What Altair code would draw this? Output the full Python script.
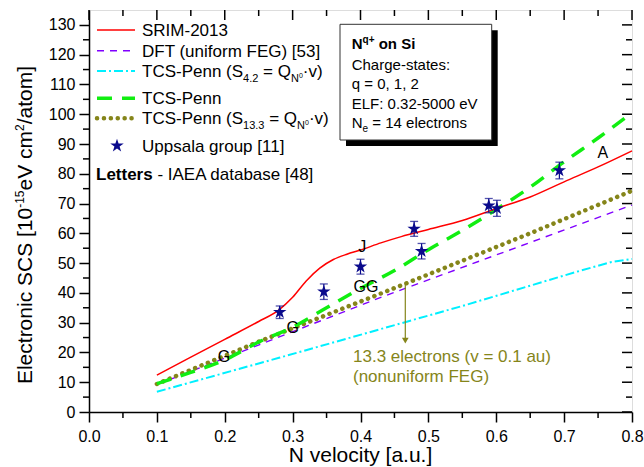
import altair as alt
import pandas as pd

# ---------------- data ----------------
srim_v = [0.10, 0.15, 0.20, 0.25, 0.28, 0.30, 0.32, 0.34, 0.36, 0.38, 0.40, 0.43, 0.46, 0.50, 0.55, 0.60, 0.65, 0.70, 0.75, 0.80]
srim_s = [12.4, 18.4, 24.4, 30.4, 34.3, 38.5, 44.0, 48.3, 51.2, 53.0, 54.4, 56.8, 58.9, 61.3, 64.3, 68.3, 72.2, 77.3, 82.3, 87.7]

dft_v = [0.10, 0.43, 0.80]
dft_s = [9.2, 38.5, 69.5]

tcs42_v = [0.10, 0.28, 0.55, 0.72, 0.77, 0.80]
tcs42_s = [6.8, 18.2, 35.6, 47.2, 50.4, 51.4]

tcs_v = [0.10, 0.15, 0.20, 0.25, 0.30, 0.35, 0.40, 0.45, 0.50, 0.55, 0.60, 0.65, 0.70, 0.75, 0.80]
tcs_s = [9.5, 13.3, 17.5, 23.5, 28.5, 35.0, 41.5, 47.5, 54.5, 61.0, 68.0, 75.5, 84.0, 92.0, 100.5]

tcs133_v = [0.10, 0.25, 0.45, 0.65, 0.80]
tcs133_s = [9.4, 23.6, 41.6, 60.0, 74.3]

upp_v = [0.281, 0.346, 0.400, 0.479, 0.490, 0.589, 0.601, 0.693]
upp_s = [33.5, 40.4, 48.8, 61.5, 54.0, 69.3, 68.4, 81.1]
upp_e = [2.1, 2.6, 2.5, 2.5, 2.6, 2.4, 2.7, 2.8]

letter_txt = ["G", "G", "GG", "J", "A"]
letter_v = [0.199, 0.300, 0.408, 0.4025, 0.757]
letter_s = [18.4, 28.3, 42.1, 55.5, 86.9]

arrow_v = [0.466]
arrow_top = [43.2]
arrow_bot = [24.0]

x_major = [0.0, 0.1, 0.2, 0.3, 0.4, 0.5, 0.6, 0.7, 0.8]
x_minor = [0.05, 0.15, 0.25, 0.35, 0.45, 0.55, 0.65, 0.75]
y_major = list(range(0, 131, 10))
y_minor = list(range(5, 126, 10))

# ---------------- styling ----------------
FONT = "Liberation Sans"
W, H = 543, 402
RED = "#ff0000"
PURPLE = "#8000ff"
CYAN = "#00f0ff"
GREEN = "#11ee11"
OLIVE = "#85851a"
NAVY = "#0a0a8c"
STAR = ("M0,-1L0.2245,-0.309L0.951,-0.309L0.363,0.118L0.588,0.809L0,0.382"
        "L-0.588,0.809L-0.363,0.118L-0.951,-0.309L-0.2245,-0.309Z")

xs = alt.Scale(domain=[0, 0.8], nice=False, zero=False)
ys = alt.Scale(domain=[0, 135], nice=False, zero=False)
AXSTYLE = dict(labelFont=FONT, labelFontSize=16, labelColor="black", tickColor="black",
               domainColor="black", tickWidth=1.5, domainWidth=1.5, grid=False,
               labelOverlap=False, labelFlush=False, tickSize=10, title=None)
XA = alt.Axis(values=x_major, format=".1f", labelPadding=6, **AXSTYLE)
YA = alt.Axis(values=y_major, format="d", labelPadding=4, **AXSTYLE)

AW = {' ': 278, '(': 333, ')': 333, '[': 278, ']': 278, '-': 333, '.': 278, ',': 278, ':': 278,
      '=': 584, '+': 584, '·': 278, '/': 278,
      'A': 667, 'B': 667, 'C': 722, 'D': 722, 'E': 667, 'F': 611, 'G': 778, 'H': 722, 'I': 278,
      'J': 500, 'K': 667, 'L': 556, 'M': 833, 'N': 722, 'O': 778, 'P': 667, 'Q': 778, 'R': 722,
      'S': 667, 'T': 611, 'U': 722, 'V': 667, 'W': 944, 'X': 667, 'Y': 667, 'Z': 611,
      'a': 556, 'b': 556, 'c': 500, 'd': 556, 'e': 556, 'f': 278, 'g': 556, 'h': 556, 'i': 222,
      'j': 222, 'k': 500, 'l': 222, 'm': 833, 'n': 556, 'o': 556, 'p': 556, 'q': 556, 'r': 333,
      's': 500, 't': 278, 'u': 556, 'v': 500, 'w': 722, 'x': 500, 'y': 500, 'z': 500}
for d in "0123456789":
    AW[d] = 556
AWB = dict(AW)
AWB.update({'L': 611, 'b': 611, 'd': 611, 'e': 556, 'n': 611, 'o': 611, 'q': 611, 'r': 389,
            's': 556, 't': 333, 'i': 278, 'l': 278, 'c': 556, 'a': 556, 'A': 722, 'B': 722})


def tw(s, size, bold=False):
    tab = AWB if bold else AW
    return sum(tab.get(c, 556) for c in s) * size / 1000.0


dummy = pd.DataFrame({"d": [0]})
layers = []


def txt(text, x, y, size, bold=False, color="black", angle=0):
    kw = dict(text=text, font=FONT, fontSize=size, color=color, align="left", baseline="alphabetic")
    if bold:
        kw["fontWeight"] = "bold"
    if angle:
        kw["angle"] = angle
    layers.append(alt.Chart(dummy).mark_text(**kw).encode(x=alt.value(x), y=alt.value(y)))


def rich(segs, x0, y0, rot=False, color="black"):
    off = 0.0
    for text, size, shift, bold in segs:
        lead = len(text) - len(text.lstrip(" "))
        off += tw(" " * lead, size, bold)
        body = text.lstrip(" ")
        if rot:
            txt(body, x0 - shift, y0 - off, size, bold, color, 270)
        else:
            txt(body, x0 + off, y0 - shift, size, bold, color)
        off += tw(body, size, bold)


def X(f):
    return alt.X(f, scale=xs, axis=XA)


def Y(f):
    return alt.Y(f, scale=ys, axis=YA)


def series(v, s, color, width, dash=None, cap="butt", interp="linear"):
    df = pd.DataFrame({"v": v, "s": s})
    kw = dict(color=color, strokeWidth=width, strokeCap=cap, interpolate=interp)
    if dash:
        kw["strokeDash"] = dash
    return alt.Chart(df).mark_line(**kw).encode(x=X("v:Q"), y=Y("s:Q"))


# ---------------- curves ----------------
layers.append(series(tcs42_v, tcs42_s, CYAN, 2, [9, 3, 2, 3]))
layers.append(series(dft_v, dft_s, PURPLE, 1.4, [7, 6]))
layers.append(series(tcs133_v, tcs133_s, OLIVE, 4.5, [0.1, 6.8], cap="round"))
layers.append(series(tcs_v, tcs_s, GREEN, 3.5, [15, 10], interp="monotone"))
layers.append(series(srim_v, srim_s, RED, 1.5, interp="monotone"))

# ---------------- Uppsala points ----------------
up = pd.DataFrame({"v": upp_v, "s": upp_s, "e": upp_e})
up["lo"] = up["s"] - up["e"]
up["hi"] = up["s"] + up["e"]
layers.append(alt.Chart(up).mark_rule(color=NAVY, strokeWidth=1.2).encode(
    x=X("v:Q"), y=Y("lo:Q"), y2="hi:Q"))
for col in ["lo", "hi"]:
    layers.append(alt.Chart(up).mark_tick(color=NAVY, orient="horizontal", size=8, thickness=1.3).encode(
        x=X("v:Q"), y=Y(f"{col}:Q")))
layers.append(alt.Chart(up).mark_point(shape=STAR, filled=True, size=200, color=NAVY, opacity=1).encode(
    x=X("v:Q"), y=Y("s:Q")))

# ---------------- letters ----------------
lt = pd.DataFrame({"t": letter_txt, "v": letter_v, "s": letter_s})
layers.append(alt.Chart(lt).mark_text(font=FONT, fontSize=16, color="black", baseline="middle").encode(
    x=X("v:Q"), y=Y("s:Q"), text="t:N"))

# ---------------- arrow annotation ----------------
ar = pd.DataFrame({"v": arrow_v, "top": arrow_top, "bot": arrow_bot})
layers.append(alt.Chart(ar).mark_rule(color=OLIVE, strokeWidth=1.2).encode(
    x=X("v:Q"), y=Y("top:Q"), y2="bot:Q"))
layers.append(alt.Chart(ar).mark_point(shape="triangle-down", filled=True, size=45, color=OLIVE, opacity=1).encode(
    x=X("v:Q"), y=Y("bot:Q")))
txt("13.3 electrons (v = 0.1 au)", 264, 352, 17, color=OLIVE)
txt("(nonuniform FEG)", 264, 372, 17, color=OLIVE)

# ---------------- inward / minor ticks ----------------
def tickrules(vals, axis, a, b):
    df = pd.DataFrame({"t": vals})
    m = alt.Chart(df).mark_rule(color="black", strokeWidth=1.5)
    if axis == "x":
        return m.encode(x=X("t:Q"), y=alt.value(a), y2=alt.value(b))
    return m.encode(y=Y("t:Q"), x=alt.value(a), x2=alt.value(b))

layers.append(tickrules(x_minor, "x", H, H + 6))
layers.append(tickrules(y_minor, "y", -6, 0))
layers.append(tickrules(x_major, "x", 0, 10))
layers.append(tickrules(x_minor, "x", 0, 6))
layers.append(tickrules(y_major, "y", W - 10, W))
layers.append(tickrules(y_minor, "y", W - 6, W))

# ---------------- legend ----------------
LX0, LX1, LT = 8, 46, 53
rows = [20, 40.7, 61, 88.3, 108.3, 135.7]

def legline(y, color, width, dash=None, cap="butt"):
    kw = dict(color=color, strokeWidth=width, strokeCap=cap)
    if dash:
        kw["strokeDash"] = dash
    layers.append(alt.Chart(dummy).mark_rule(**kw).encode(
        x=alt.value(LX0), x2=alt.value(LX1), y=alt.value(y)))

legline(rows[0], RED, 1.5)
legline(rows[1], PURPLE, 1.4, [7, 6])
legline(rows[2], CYAN, 2, [9, 3, 2, 3])
legline(rows[3], GREEN, 3.5, [15, 10])
legline(rows[4], OLIVE, 4.5, [0.1, 6.8], cap="round")
layers.append(alt.Chart(dummy).mark_point(shape=STAR, filled=True, size=200, color=NAVY, opacity=1).encode(
    x=alt.value(28), y=alt.value(rows[5])))

F = 17
S = 11
b = [r + 6 for r in rows]
txt("SRIM-2013", LT, b[0], F)
txt("DFT (uniform FEG) [53]", LT, b[1], F)
rich([("TCS-Penn (S", F, 0, False), ("4.2", S, -5, False), (" = Q", F, 0, False),
      ("N", S, -5, False), ("0", 7, -1, False), ("·v)", F, 0, False)], LT, b[2])
txt("TCS-Penn", LT, b[3], F)
rich([("TCS-Penn (S", F, 0, False), ("13.3", S, -5, False), (" = Q", F, 0, False),
      ("N", S, -5, False), ("0", 7, -1, False), ("·v)", F, 0, False)], LT, b[4])
txt("Uppsala group [11]", LT, b[5], F)
rich([("Letters", F, 0, True), (" - IAEA database [48]", F, 0, False)], 7, 169.5)

# ---------------- info box ----------------
BX0, BX1, BY0, BY1 = 251, 402.7, 14.3, 130
layers.append(alt.Chart(dummy).mark_rect(color="black").encode(
    x=alt.value(BX0 + 6), x2=alt.value(BX1 + 6), y=alt.value(BY0 + 6), y2=alt.value(BY1 + 6)))
layers.append(alt.Chart(dummy).mark_rect(fill="white", stroke="#333333", strokeWidth=1).encode(
    x=alt.value(BX0), x2=alt.value(BX1), y=alt.value(BY0), y2=alt.value(BY1)))
BT = 262.7
rich([("N", 15, 0, True), ("q+", 10, 6, True), (" on Si", 15, 0, True)], BT, 39)
txt("Charge-states:", BT, 59.5, 15)
txt("q = 0, 1, 2", BT, 79, 15)
txt("ELF: 0.32-5000 eV", BT, 98.5, 15)
rich([("N", 15, 0, False), ("e", 10, -4, False), (" = 14 electrons", 15, 0, False)], BT, 118)

# ---------------- axis titles ----------------
TF = 21
xt = "N velocity [a.u.]"
txt(xt, W / 2 - tw(xt, TF) / 2, 452, TF)
ysegs = [("Electronic SCS [10", TF, 0, False), ("-15", 12, 8, False), ("eV cm", TF, 0, False),
         ("2", 12, 8, False), ("/atom]", TF, 0, False)]
ylen = sum(tw(t, s) for t, s, _, _ in ysegs)
rich(ysegs, -57, H / 2 + 14 + ylen / 2, rot=True)

chart = alt.layer(*layers).properties(
    width=W, height=H,
    padding={"left": 89, "top": 10, "right": 12, "bottom": 55},
    autosize=alt.AutoSizeParams(type="none"),
).configure_view(
    stroke="black", strokeWidth=1.5
).configure(background="white")

chart.save("out.html", embed_options={"renderer": "svg", "actions": False})
